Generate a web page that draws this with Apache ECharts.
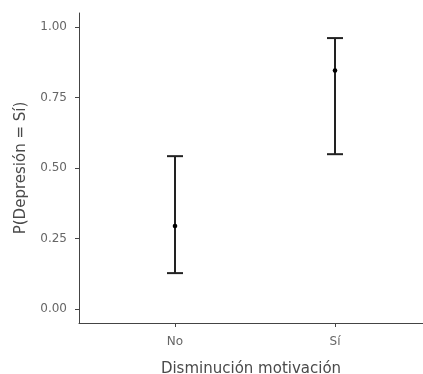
<!DOCTYPE html>
<html><head><meta charset="utf-8">
<script src="https://cdn.jsdelivr.net/npm/echarts@6/dist/echarts.min.js"></script>
<style>html,body{margin:0;padding:0;background:#fff}#c{width:423px;height:374px}</style>
</head><body><div id="c"></div>
<script>
var categories = ['No', 'Sí'];
var estimates = [0.294, 0.846];
var lowerCI = [0.127, 0.549];
var upperCI = [0.542, 0.961];
var yTicks = [0, 0.25, 0.5, 0.75, 1.0];

var data = categories.map(function (c, i) { return [i + 1, lowerCI[i], estimates[i], upperCI[i]]; });
var chart = echarts.init(document.getElementById('c'));
var FONT = 'DejaVu Sans';
chart.setOption({
  animation: false,
  grid: { left: 79, right: 0, top: 13, bottom: 51, containLabel: false, outerBoundsMode: 'none' },
  xAxis: {
    type: 'value', min: 0.4, max: 2.55,
    name: 'Disminución motivación', nameLocation: 'middle', nameGap: 39,
    nameTextStyle: { fontFamily: FONT, fontSize: 15, color: '#4a4a4a' },
    axisLine: { show: true, onZero: false, lineStyle: { color: '#444', width: 1 } },
    axisTick: { show: true, length: 4, customValues: [1, 2], lineStyle: { color: '#444' } },
    axisLabel: { customValues: [1, 2], formatter: function (v) { return categories[Math.round(v) - 1] || ''; },
      fontFamily: FONT, fontSize: 12, color: '#666', margin: 13 },
    splitLine: { show: false }
  },
  yAxis: {
    type: 'value', min: -0.05, max: 1.05,
    name: 'P(Depresión = Sí)', nameLocation: 'middle', nameGap: 50, nameRotate: 90,
    nameTextStyle: { fontFamily: FONT, fontSize: 15, color: '#4a4a4a' },
    axisLine: { show: true, onZero: false, lineStyle: { color: '#444', width: 1 } },
    axisTick: { show: true, length: 4, customValues: yTicks, lineStyle: { color: '#444' } },
    axisLabel: { customValues: yTicks, formatter: function (v) { return v.toFixed(2); },
      fontFamily: FONT, fontSize: 12, color: '#666', margin: 12 },
    splitLine: { show: false }
  },
  series: [{
    type: 'custom',
    data: data,
    renderItem: function (params, api) {
      var x = api.value(0);
      var lo = api.coord([x, api.value(1)]);
      var mid = api.coord([x, api.value(2)]);
      var hi = api.coord([x, api.value(3)]);
      var hw = 8;
      var st = { stroke: '#222', lineWidth: 2 };
      return {
        type: 'group',
        children: [
          { type: 'line', shape: { x1: lo[0], y1: lo[1], x2: hi[0], y2: hi[1] }, style: st },
          { type: 'line', shape: { x1: lo[0] - hw, y1: lo[1], x2: lo[0] + hw, y2: lo[1] }, style: st },
          { type: 'line', shape: { x1: hi[0] - hw, y1: hi[1], x2: hi[0] + hw, y2: hi[1] }, style: st },
          { type: 'circle', shape: { cx: mid[0], cy: mid[1], r: 2.3 }, style: { fill: '#000' } }
        ]
      };
    }
  }]
});
</script></body></html>
